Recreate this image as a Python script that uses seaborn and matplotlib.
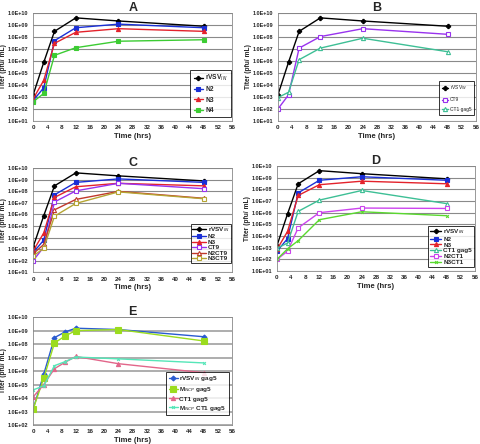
import numpy as np
import pandas as pd
import seaborn as sns
import matplotlib.pyplot as plt
from matplotlib.ticker import FixedLocator, NullLocator

sns.set_style("white")
plt.rcParams['font.family'] = ['Liberation Sans', 'DejaVu Sans']

# time points (hrs)
hrs = [0, 3, 6, 12, 24, 48]
hrs_e = [0, 3, 6, 9, 12, 24, 48]

# titers (pfu/mL)
rvsv = [1.5e3, 8e5, 3e8, 4e9, 2.2e9, 8e8]
n2 = [5e2, 6e3, 5e7, 6e8, 1.2e9, 6e8]
n3 = [7e2, 2.5e4, 3e7, 2.5e8, 5e8, 3e8]
n4 = [4e2, 2e3, 3e6, 1.3e7, 4.5e7, 6e7]
ct9 = [1e2, 1.5e3, 1.2e7, 1.1e8, 5e8, 1.7e8]
ct1_gag5 = [9e2, 2.5e3, 1.3e6, 1.2e7, 8e7, 6e6]
n2ct9 = [4e2, 2.5e3, 2.5e6, 2e7, 1e8, 2.5e7]
n3ct9 = [2.5e2, 1.2e3, 7e5, 9e6, 9e7, 2.3e7]
n2ct1 = [1e2, 5e2, 5e4, 1e6, 2.5e6, 2.3e6]
n3ct1 = [1e2, 8e2, 4e3, 2.5e5, 1.2e6, 5.5e5]

rvsv_gag5 = [1.5e3, 6e5, 3e8, 8e8, 1.5e9, 1.2e9, 3.5e8]
mncp_gag5 = [1.5e3, 3e5, 1.2e8, 4e8, 1e9, 1.2e9, 1.7e8]
ct1_gag5_e = [1.2e4, 1e5, 1.5e6, 4.5e6, 1.2e7, 3.5e6, 7.5e5]
mncp_ct1_gag5 = [4e4, 8e4, 2.5e6, 5e6, 1.1e7, 8e6, 4e6]

# styles: key -> (color, marker, filled, size)
sty = {
    'rvsv': ('black', 'P', True, 3),
    'n2': ('#1a2fd6', 's', True, 3),
    'n3': ('#e3222b', '^', True, 3),
    'n4': ('#3ccc33', 's', True, 2.5),
    'ct9': ('#9933ee', 's', False, 3),
    'ct1': ('#3dbf95', '^', False, 3),
    'n2ct9': ('#c0392b', '^', False, 3),
    'n3ct9': ('#b5a534', 's', False, 3),
    'n2ct1': ('#cc44ee', 's', False, 3),
    'n3ct1': ('#5ad92f', 'x', False, 2),
    'rvsv_g': ('#2a5bd0', 'D', True, 2.5),
    'mncp_g': ('#9bdc1e', 's', True, 4),
    'ct1_g': ('#e2668a', '^', True, 3),
    'mncp_ct1_g': ('#55e6b8', 'x', False, 2),
}


def draw(ax, x, y, key, label):
    c, m, filled, ms = sty[key]
    df = pd.DataFrame({'t': x, 'titer': y})
    sns.lineplot(data=df, x='t', y='titer', ax=ax, color=c, marker=m,
                 markersize=ms, linewidth=1.0, label=label,
                 markerfacecolor=c if filled else 'white',
                 markeredgecolor=c, markeredgewidth=0.8)


def style_axes(ax, title, ymin_exp=1, leg_fs=5, leg_loc=(1.0, 0.03),
               lspace=0.6, bpad=0.5, hlen=1.4, bold_leg=True):
    ax.set_yscale('log')
    ax.set_ylim(10 ** ymin_exp, 1e10)
    ax.set_xlim(0, 56)
    exps = list(range(ymin_exp, 11))
    ax.yaxis.set_major_locator(FixedLocator([10.0 ** e for e in exps]))
    ax.yaxis.set_minor_locator(NullLocator())
    ax.set_yticklabels(['1.0E+%02d' % e for e in exps], fontsize=4,
                       fontweight='bold')
    ax.set_xticks(range(0, 57, 4))
    ax.set_xticklabels([str(v) for v in range(0, 57, 4)], fontsize=4.5,
                       fontweight='bold')
    ax.tick_params(length=2, width=0.6, pad=1.2)
    ax.yaxis.grid(True, color='#8a8a8a', linewidth=0.8)
    ax.xaxis.grid(False)
    for s in ax.spines.values():
        s.set_color('#888888')
        s.set_linewidth(0.6)
    ax.set_xlabel('Time (hrs)', fontsize=5.5, fontweight='bold', labelpad=1.5)
    ax.set_ylabel('Titer (pfu/ mL)', fontsize=4.8, fontweight='bold', labelpad=0.5)
    ax.set_title(title, fontsize=9, fontweight='bold', pad=1.5)
    leg = ax.legend(loc='lower right', bbox_to_anchor=leg_loc, fontsize=leg_fs,
                    frameon=True, fancybox=False, handlelength=hlen,
                    borderpad=bpad, labelspacing=lspace, handletextpad=0.3,
                    borderaxespad=0.2)
    leg.get_frame().set_edgecolor('black')
    leg.get_frame().set_linewidth(0.7)
    for t in leg.get_texts():
        t.set_fontweight('bold' if bold_leg else 'normal')


fig = plt.figure(figsize=(4.8, 4.44), dpi=100)

axA = fig.add_axes([0.069, 0.7275, 0.415, 0.243])
draw(axA, hrs, rvsv, 'rvsv', 'rVSV$_{IN}$')
draw(axA, hrs, n2, 'n2', 'N2')
draw(axA, hrs, n3, 'n3', 'N3')
draw(axA, hrs, n4, 'n4', 'N4')
style_axes(axA, 'A', leg_fs=4.8, lspace=0.5, leg_loc=(1.0, 0.02))

axB = fig.add_axes([0.579, 0.7275, 0.4125, 0.243])
draw(axB, hrs, rvsv, 'rvsv', 'rVSV$_{IN}$')
draw(axB, hrs, ct9, 'ct9', 'CT9')
draw(axB, hrs, ct1_gag5, 'ct1', 'CT1 gag5')
style_axes(axB, 'B', leg_fs=3.5, leg_loc=(0.995, 0.05), lspace=1.0,
           bold_leg=False)

axC = fig.add_axes([0.069, 0.387, 0.415, 0.234])
draw(axC, hrs, rvsv, 'rvsv', 'rVSV$_{IN}$')
draw(axC, hrs, n2, 'n2', 'N2')
draw(axC, hrs, n3, 'n3', 'N3')
draw(axC, hrs, ct9, 'ct9', 'CT9')
draw(axC, hrs, n2ct9, 'n2ct9', 'N2CT9')
draw(axC, hrs, n3ct9, 'n3ct9', 'N3CT9')
style_axes(axC, 'C', leg_fs=4.6, lspace=0.0, bpad=0.2, hlen=2.2,
           leg_loc=(1.0, 0.08))

axD = fig.add_axes([0.577, 0.3896, 0.4125, 0.2365])
draw(axD, hrs, rvsv, 'rvsv', 'rVSV$_{IN}$')
draw(axD, hrs, n2, 'n2', 'N2')
draw(axD, hrs, n3, 'n3', 'N3')
draw(axD, hrs, ct1_gag5, 'ct1', 'CT1 gag5')
draw(axD, hrs, n2ct1, 'n2ct1', 'N2CT1')
draw(axD, hrs, n3ct1, 'n3ct1', 'N3CT1')
style_axes(axD, 'D', leg_fs=4.6, lspace=0.05, bpad=0.25, hlen=1.8,
           leg_loc=(1.0, 0.03))

axE = fig.add_axes([0.069, 0.0428, 0.415, 0.243])
draw(axE, hrs_e, rvsv_gag5, 'rvsv_g', 'rVSV$_{IN}$ gag5')
draw(axE, hrs_e, mncp_gag5, 'mncp_g', 'M$_{NCP}$ gag5')
draw(axE, hrs_e, ct1_gag5_e, 'ct1_g', 'CT1 gag5')
draw(axE, hrs_e, mncp_ct1_gag5, 'mncp_ct1_g', 'M$_{NCP}$ CT1 gag5')
style_axes(axE, 'E', ymin_exp=2, leg_fs=4.6, leg_loc=(0.99, 0.08),
           lspace=0.3, bpad=0.4)
axE.yaxis.grid(True, color='#a0a0a0', linewidth=1.2)

fig.savefig('out.png', dpi=100)
